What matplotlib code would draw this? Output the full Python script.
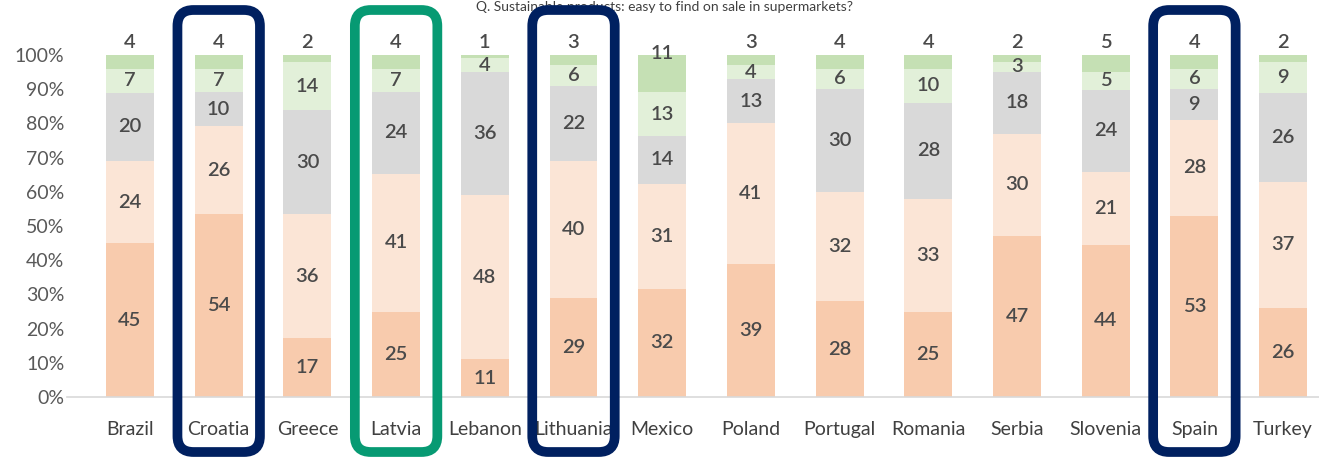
import matplotlib
matplotlib.use("Agg")
import matplotlib.pyplot as plt
import numpy as np
from matplotlib.patches import FancyBboxPatch
from matplotlib.transforms import IdentityTransform

plt.rcParams['font.family'] = ['Lato', 'DejaVu Sans']

countries = ["Brazil", "Croatia", "Greece", "Latvia", "Lebanon", "Lithuania", "Mexico",
             "Poland", "Portugal", "Romania", "Serbia", "Slovenia", "Spain", "Turkey"]
seg1 = [45, 54, 17, 25, 11, 29, 32, 39, 28, 25, 47, 44, 53, 26]
seg2 = [24, 26, 36, 41, 48, 40, 31, 41, 32, 33, 30, 21, 28, 37]
seg3 = [20, 10, 30, 24, 36, 22, 14, 13, 30, 28, 18, 24, 9, 26]
seg4 = [7, 7, 14, 7, 4, 6, 13, 4, 6, 10, 3, 5, 6, 9]
seg5 = [4, 4, 2, 4, 1, 3, 11, 3, 4, 4, 2, 5, 4, 2]
yticks = [0, 10, 20, 30, 40, 50, 60, 70, 80, 90, 100]
navy_boxes = ["Croatia", "Lithuania", "Spain"]
green_boxes = ["Latvia"]
title = "Q. Sustainable products: easy to find on sale in supermarkets?"

colors = ["#F8CBAD", "#FBE5D6", "#D9D9D9", "#E2F0D9", "#C5E0B4"]
series = [seg1, seg2, seg3, seg4, seg5]

W, H = 1319, 462
fig = plt.figure(figsize=(W / 100, H / 100), dpi=100)
ax = fig.add_axes([67 / W, (H - 397) / H, (W - 67) / W, (397 - 55) / H])

x = np.arange(len(countries))
data = np.array(series, dtype=float)
tot = data.sum(axis=0)
frac = data / tot
bottom = np.zeros(len(countries))
for i, (vals, col) in enumerate(zip(series, colors)):
    ax.bar(x, frac[i], 0.54, bottom=bottom, color=col, edgecolor='none', zorder=2)
    for j, v in enumerate(vals):
        if i < 4:
            yc = bottom[j] + frac[i][j] / 2
        else:
            yc = 1.003 if v >= 8 else 1.038
        ax.text(x[j], yc, str(v), ha='center', va='center', fontsize=14.5,
                fontweight='semibold', color='#4a4a4a', clip_on=False, zorder=5)
    bottom += frac[i]

ax.set_xlim(-(130 - 67) / 88.7, (W - 130) / 88.7)
ax.set_ylim(0, 1)
ax.set_yticks([t / 100 for t in yticks])
ax.set_yticklabels([f"{t}%" for t in yticks], fontsize=14, color='#595959')
ax.set_xticks(x)
ax.set_xticklabels(countries, fontsize=14, color='#404040')
ax.tick_params(axis='both', length=0)
ax.tick_params(axis='y', pad=2)
ax.tick_params(axis='x', pad=17)
for s in ['top', 'right', 'left']:
    ax.spines[s].set_visible(False)
ax.spines['bottom'].set_color('#D9D9D9')
ax.spines['bottom'].set_linewidth(1.2)

fig.text(0.504, 1 - 1 / H, title, ha='center', va='top', fontsize=10,
         color='#404040', zorder=1)

fig.canvas.draw()
step = ax.transData.transform((1, 0))[0] - ax.transData.transform((0, 0))[0]
for name in navy_boxes + green_boxes:
    j = countries.index(name)
    cx = ax.transData.transform((j, 0))[0]
    col = '#002060' if name in navy_boxes else '#079A73'
    half = 0.465 * step
    y0 = 10
    y1 = H - 10
    box = FancyBboxPatch((cx - half, y0), 2 * half, y1 - y0,
                         boxstyle="round,pad=0,rounding_size=16",
                         transform=IdentityTransform(), facecolor='none',
                         edgecolor=col, linewidth=7, zorder=10)
    fig.patches.append(box)

fig.savefig("out.png", dpi=100)
